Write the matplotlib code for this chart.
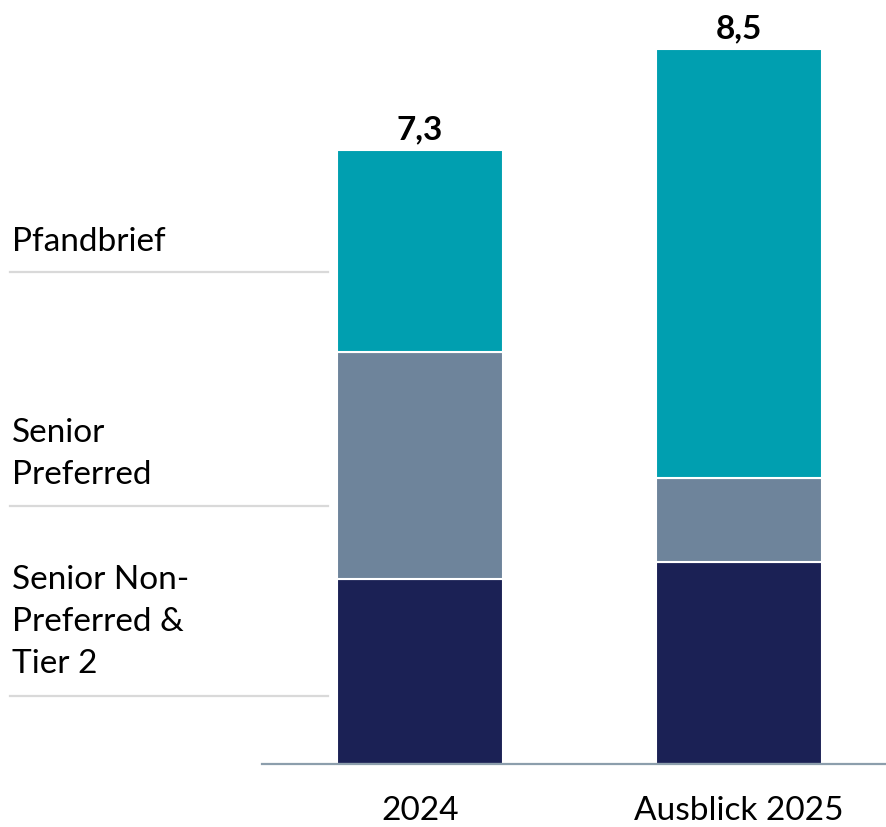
import matplotlib.pyplot as plt
from matplotlib.lines import Line2D

plt.rcParams['font.family'] = ['Lato', 'DejaVu Sans']

categories = ["2024", "Ausblick 2025"]
tier2 = [2.2, 2.4]
senior_pref = [2.7, 1.0]
pfandbrief = [2.4, 5.1]
totals = ["7,3", "8,5"]
segment_names = ["Pfandbrief", "Senior\nPreferred", "Senior Non-\nPreferred &\nTier 2"]

c_navy = "#1B2155"
c_gray = "#6E849B"
c_teal = "#009FB0"

fig = plt.figure(figsize=(8.87, 8.28), dpi=100)
ax = fig.add_axes([262/887, 63/828, 625/887, 765/828])

x = list(range(len(categories)))
w = 0.521
ax.bar(x, tier2, width=w, color=c_navy, edgecolor="white", linewidth=1.5)
bottom2 = [a for a in tier2]
ax.bar(x, senior_pref, width=w, bottom=bottom2, color=c_gray, edgecolor="white", linewidth=1.5)
bottom3 = [a + b for a, b in zip(tier2, senior_pref)]
ax.bar(x, pfandbrief, width=w, bottom=bottom3, color=c_teal, edgecolor="white", linewidth=1.5)

for i in x:
    top = tier2[i] + senior_pref[i] + pfandbrief[i]
    ax.annotate(totals[i], (i, top), xytext=(0, 22), textcoords="offset pixels",
                ha="center", va="center", fontsize=24, fontweight="bold", color="black")

ax.set_xlim(-0.496, 1.466)
ax.set_ylim(0, 9.1)
ax.set_xticks(x)
ax.set_xticklabels(categories, fontsize=24)
ax.tick_params(axis="x", length=0, pad=22)
ax.set_yticks([])
for s in ["top", "right", "left"]:
    ax.spines[s].set_visible(False)
ax.spines["bottom"].set_color("#8C9EAC")
ax.spines["bottom"].set_linewidth(1.6)

# left-hand segment labels with separator lines
label_y = [242, 454, 622]
sep_y = [273, 507, 697]
for name, ly, sy in zip(segment_names, label_y, sep_y):
    fig.text(12/887, 1 - ly/828, name, ha="left", va="center", fontsize=24,
             linespacing=1.5, color="black")
    fig.add_artist(Line2D([10/887, 328/887], [1 - sy/828, 1 - sy/828],
                          transform=fig.transFigure, color="#D9D9D9", lw=1.6))

fig.savefig("out.png", dpi=100)
